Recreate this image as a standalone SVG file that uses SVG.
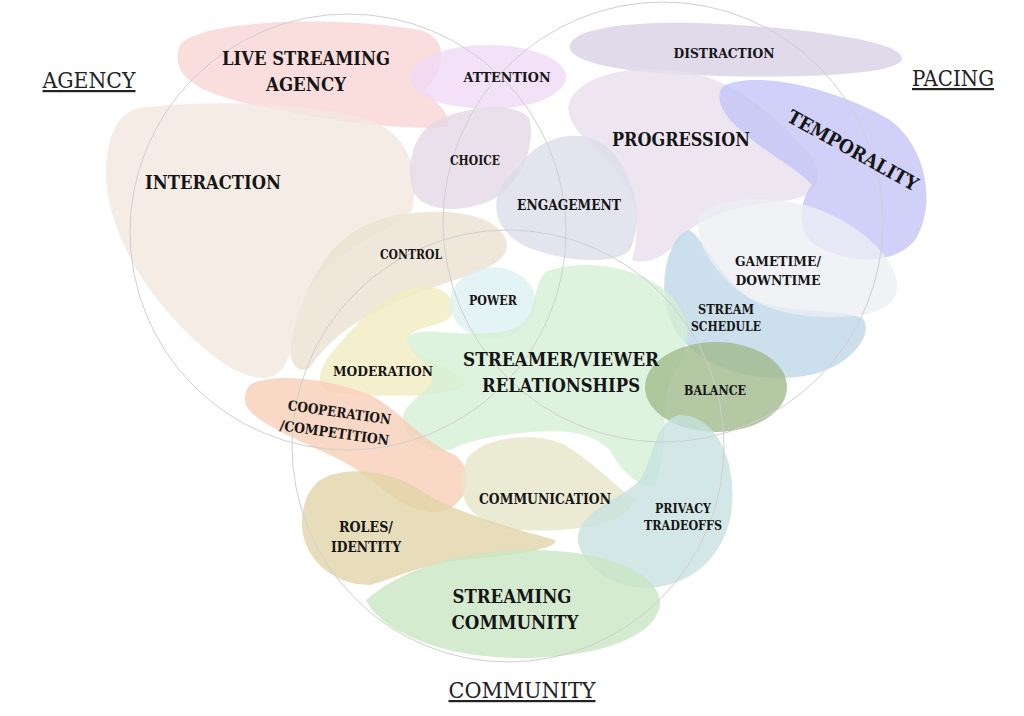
<svg xmlns="http://www.w3.org/2000/svg" width="1024" height="716" viewBox="0 0 1024 716">
<style>
.b{opacity:0.78}
.t{font-family:"DejaVu Serif","Liberation Serif",serif;font-weight:bold;fill:#151515;text-anchor:middle}
.s{font-size:13px}
.m{font-size:14px}
.l{font-size:19px}
.h{font-family:"DejaVu Serif","Liberation Serif",serif;font-size:22px;fill:#222;text-anchor:middle;text-decoration:underline}
.c{fill:none;stroke:#cfcfcf;stroke-width:1}
</style>
<rect width="1024" height="716" fill="#ffffff"/>
<g id="blobs">
<g id="live-streaming-agency"><path class="b" fill="#f9d3d3" d="M180 45 C200 20 330 15 420 30 C450 38 445 70 425 90 C440 105 455 120 445 127 C400 130 340 122 290 112 C220 100 165 85 180 45 Z"/></g>
<g id="distraction"><path class="b" fill="#d8d0e5" d="M570 45 C575 25 650 20 720 24 C800 28 900 40 902 58 C903 75 800 78 720 76 C640 75 565 65 570 45 Z"/></g>
<g id="interaction"><path class="b" fill="#f4e7df" d="M140 108 C200 100 330 100 380 125 C410 140 420 175 412 210 C390 235 320 250 300 310 C290 350 290 375 265 378 C230 380 180 330 150 290 C115 240 100 190 108 150 C112 125 125 110 140 108 Z"/></g>
<g id="attention"><ellipse class="b" fill="#f0d8f6" cx="488" cy="77" rx="78" ry="32"/></g>
<g id="progression"><path class="b" fill="#e8dfed" d="M570 100 C585 70 650 62 700 75 C740 85 785 125 810 155 C825 175 818 195 790 200 C740 205 700 215 680 240 C665 258 645 265 632 260 C640 230 640 200 615 170 C595 145 560 125 570 100 Z"/></g>
<g id="choice"><path class="b" fill="#e4d7e6" d="M430 125 C460 105 520 100 530 120 C535 150 520 180 500 195 C475 212 430 215 415 195 C405 175 410 140 430 125 Z"/></g>
<g id="engagement"><path class="b" fill="#dcdcea" d="M520 165 C540 135 585 125 610 150 C635 175 645 220 630 250 C615 265 570 262 535 250 C505 240 488 215 500 190 C505 178 512 172 520 165 Z"/></g>
<g id="temporality"><path class="b" fill="#c3c3f6" d="M725 85 C760 70 840 90 890 120 C930 150 935 210 915 240 C895 265 850 265 815 245 C795 230 800 200 812 185 C800 170 760 150 735 125 C718 108 715 92 725 85 Z"/></g>
<g id="stream-schedule"><path class="b" fill="#bcd6e7" d="M688 230 C700 232 715 270 745 295 C775 315 840 308 862 318 C875 330 855 365 810 375 C760 385 700 370 675 330 C655 295 665 240 688 230 Z"/></g>
<g id="gametime"><path class="b" fill="#eceef3" d="M700 215 C720 195 780 195 820 210 C860 225 900 260 897 290 C893 318 840 320 800 315 C760 310 730 290 710 260 C700 245 695 228 700 215 Z"/></g>
<g id="control"><path class="b" fill="#ebe2d0" d="M430 212 C470 210 505 222 507 245 C508 265 470 275 440 285 C400 300 340 320 310 368 C295 375 287 360 292 340 C300 300 320 250 360 228 C385 215 410 212 430 212 Z"/></g>
<g id="moderation"><path class="b" fill="#f1ecc0" d="M420 287 C445 285 458 300 452 315 C445 328 410 325 408 340 C410 360 470 370 465 385 C455 398 370 398 330 392 C315 388 318 370 330 355 C350 330 385 290 420 287 Z"/></g>
<g id="power"><ellipse class="b" fill="#dcf0ef" cx="493" cy="303" rx="43" ry="36"/></g>
<g id="relationships"><path class="b" fill="#d5efd5" d="M545 272 C580 258 640 265 670 295 C695 320 690 350 670 380 C660 410 670 450 655 485 C640 490 620 470 610 450 C590 430 560 430 530 432 C500 435 470 440 450 450 C420 455 395 430 405 410 C415 395 440 385 430 370 C420 355 400 345 410 335 C425 325 470 340 510 330 C540 320 530 290 545 272 Z"/></g>
<g id="balance"><ellipse class="b" fill="#9fb889" cx="716" cy="387" rx="71" ry="45"/></g>
<g id="cooperation"><path class="b" fill="#f9cdb6" d="M250 385 C270 372 330 378 370 395 C400 410 420 440 455 455 C475 470 470 505 440 512 C400 515 380 480 340 460 C300 440 245 420 245 400 C245 392 247 388 250 385 Z"/></g>
<g id="communication"><path class="b" fill="#e5e6c6" d="M470 455 C490 435 540 432 565 445 C590 460 615 485 635 500 C628 525 570 533 520 530 C480 528 458 505 462 480 C463 470 465 460 470 455 Z"/></g>
<g id="privacy"><path class="b" fill="#c6e2df" d="M680 415 C720 415 740 470 730 520 C720 560 690 585 650 588 C610 590 575 560 578 535 C582 510 620 500 640 480 C655 455 655 420 680 415 Z"/></g>
<g id="roles"><path class="b" fill="#e2d3a6" d="M320 480 C345 465 390 470 420 490 C450 510 500 525 555 540 C560 548 520 555 460 560 C420 565 390 580 370 585 C330 585 300 555 302 520 C303 500 310 488 320 480 Z"/></g>
<g id="streaming-community"><path class="b" fill="#c9e5c1" d="M366 600 C400 570 460 550 530 550 C600 550 655 570 660 600 C662 635 600 658 520 658 C440 658 380 630 366 600 Z"/></g>
</g>
<g id="connectors">
<circle class="c" cx="348" cy="232" r="218"/>
<circle class="c" cx="663" cy="222" r="220"/>
<circle class="c" cx="508" cy="446" r="216"/>
</g>
<g id="labels">
<text class="t l" x="306" y="65" textLength="168" lengthAdjust="spacingAndGlyphs">LIVE STREAMING</text>
<text class="t l" x="306" y="91" textLength="80" lengthAdjust="spacingAndGlyphs">AGENCY</text>
<text class="t s" x="507" y="82" textLength="87" lengthAdjust="spacingAndGlyphs">ATTENTION</text>
<text class="t s" x="724" y="58" textLength="101" lengthAdjust="spacingAndGlyphs">DISTRACTION</text>
<text class="t l" x="681" y="146" textLength="138" lengthAdjust="spacingAndGlyphs">PROGRESSION</text>
<text class="t l" x="853" y="157" transform="rotate(29 853 150)" textLength="146" lengthAdjust="spacingAndGlyphs">TEMPORALITY</text>
<text class="t l" x="213" y="189" textLength="136" lengthAdjust="spacingAndGlyphs">INTERACTION</text>
<text class="t s" x="475" y="165" textLength="50" lengthAdjust="spacingAndGlyphs">CHOICE</text>
<text class="t m" x="569" y="210" textLength="104" lengthAdjust="spacingAndGlyphs">ENGAGEMENT</text>
<text class="t s" x="411" y="259" textLength="62" lengthAdjust="spacingAndGlyphs">CONTROL</text>
<text class="t s" x="493" y="305" textLength="48" lengthAdjust="spacingAndGlyphs">POWER</text>
<text class="t s" x="778" y="266" textLength="86" lengthAdjust="spacingAndGlyphs">GAMETIME/</text>
<text class="t s" x="778" y="285" textLength="85" lengthAdjust="spacingAndGlyphs">DOWNTIME</text>
<text class="t s" x="726" y="314" textLength="56" lengthAdjust="spacingAndGlyphs">STREAM</text>
<text class="t s" x="726" y="331" textLength="70" lengthAdjust="spacingAndGlyphs">SCHEDULE</text>
<text class="t s" x="383" y="376" textLength="100" lengthAdjust="spacingAndGlyphs">MODERATION</text>
<text class="t l" x="561" y="366" textLength="196" lengthAdjust="spacingAndGlyphs">STREAMER/VIEWER</text>
<text class="t l" x="561" y="392" textLength="158" lengthAdjust="spacingAndGlyphs">RELATIONSHIPS</text>
<text class="t s" x="715" y="395" textLength="62" lengthAdjust="spacingAndGlyphs">BALANCE</text>
<g transform="rotate(8 337 422)">
<text class="t m" x="338" y="417" textLength="104" lengthAdjust="spacingAndGlyphs">COOPERATION</text>
<text class="t m" x="336" y="438" textLength="110" lengthAdjust="spacingAndGlyphs">/COMPETITION</text>
</g>
<text class="t m" x="545" y="504" textLength="132" lengthAdjust="spacingAndGlyphs">COMMUNICATION</text>
<text class="t s" x="683" y="513" textLength="56" lengthAdjust="spacingAndGlyphs">PRIVACY</text>
<text class="t s" x="683" y="530" textLength="78" lengthAdjust="spacingAndGlyphs">TRADEOFFS</text>
<text class="t m" x="366" y="532" textLength="54" lengthAdjust="spacingAndGlyphs">ROLES/</text>
<text class="t m" x="366" y="552" textLength="70" lengthAdjust="spacingAndGlyphs">IDENTITY</text>
<text class="t l" x="512" y="603" textLength="119" lengthAdjust="spacingAndGlyphs">STREAMING</text>
<text class="t l" x="515" y="629" textLength="127" lengthAdjust="spacingAndGlyphs">COMMUNITY</text>
<text class="h" x="89" y="88" textLength="93" lengthAdjust="spacingAndGlyphs">AGENCY</text>
<text class="h" x="953" y="86" textLength="82" lengthAdjust="spacingAndGlyphs">PACING</text>
<text class="h" x="522" y="698" textLength="147" lengthAdjust="spacingAndGlyphs">COMMUNITY</text>
</g>
</svg>
